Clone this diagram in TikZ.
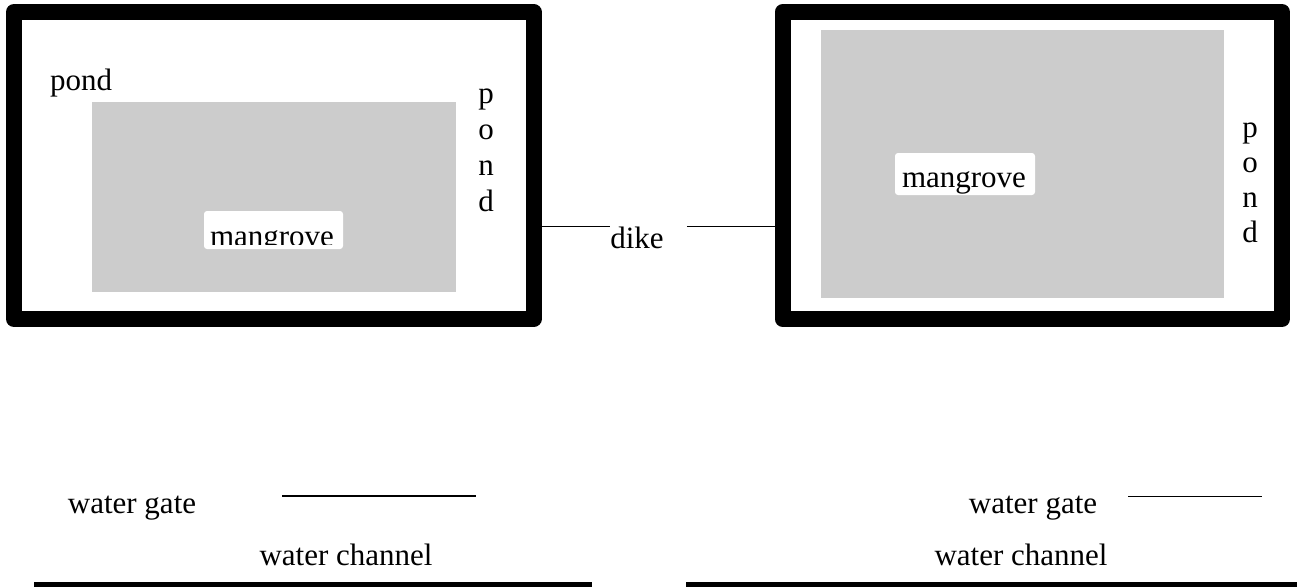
\documentclass[tikz,border=0pt]{standalone}
\usepackage{fontspec}
\setmainfont{Liberation Serif}
\usepackage{tikz}
\usetikzlibrary{positioning, calc}
\definecolor{cMANG}{HTML}{CCCCCC}
\definecolor{cLINE}{HTML}{000000}

\begin{document}
\begin{tikzpicture}[
  x=1pt, y=-1pt,
  font=\fontsize{31}{36}\selectfont,
  pondframe/.style={draw=cLINE, line width=16pt, line join=round, inner sep=0pt},
  mangarea/.style={fill=cMANG, draw=none, inner sep=0pt},
  labelbox/.style={fill=white, draw=none, rounded corners=3pt, inner sep=0pt},
  word/.style={anchor=base, inner sep=0pt},
]
\useasboundingbox (0,0) rectangle (1303,587);

% two ponds
\node[pondframe, minimum width=519.5pt, minimum height=307pt] (pondL) at (273.75,165.5) {};
\node[pondframe, minimum width=499.5pt, minimum height=307pt] (pondR) at (1032.25,165.5) {};

% mangrove areas
\node[mangarea, minimum width=364pt, minimum height=190pt] (mgL) at (274,197) {};
\node[mangarea, minimum width=403pt, minimum height=268pt] (mgR) at (1022.5,164) {};

\node[labelbox, minimum width=139pt, minimum height=38pt] (mgLbox) at (273.5,230) {};
\begin{scope}
  \clip (mgLbox.north west) rectangle ([yshift=5pt]mgLbox.south east);
  \node[word] (mgLtxt) at (272,246) {mangrove};
\end{scope}
\node[labelbox, minimum width=140pt, minimum height=42pt] (mgRbox) at (965,174) {};
\node[word] (mgRtxt) at (964,187) {mangrove};

% pond labels
\node[word] (pondLtxt) at (81,90) {pond};
\foreach \ch [count=\i] in {p,o,n,d} {
  \node[word] (pL\i) at (486,{103+36*(\i-1)}) {\ch};
  \node[word] (pR\i) at (1250,{137+35.3*(\i-1)}) {\ch};
}

% dike between the ponds
\node[word] (dike) at (637,248) {dike};
\draw[line width=1.2pt] (pondL.east |- dike.north) -- (dike.north west);
\draw[line width=1.2pt] ([xshift=23pt]dike.north east) -- (pondR.west |- dike.north);

% water gates and channel
\node[word] (gateL) at (132,513) {water gate};
\node[word] (gateR) at (1033,513) {water gate};
\coordinate (gL1) at (282,496);
\coordinate (gL2) at (476,496);
\coordinate (gR1) at (1128,496);
\coordinate (gR2) at (1262,496);
\draw[line width=2pt] (gL1) -- (gL2);
\draw[line width=1pt] (gR1) -- (gR2);

\node[word] (chanL) at (346,565) {water channel};
\node[word] (chanR) at (1021,565) {water channel};
\coordinate (cL1) at (34,584.5);
\coordinate (cL2) at (592,584.5);
\coordinate (cR1) at (686,584.5);
\coordinate (cR2) at (1297,584.5);
\draw[line width=5pt] (cL1) -- (cL2);
\draw[line width=5pt] (cR1) -- (cR2);
\end{tikzpicture}
\end{document}
